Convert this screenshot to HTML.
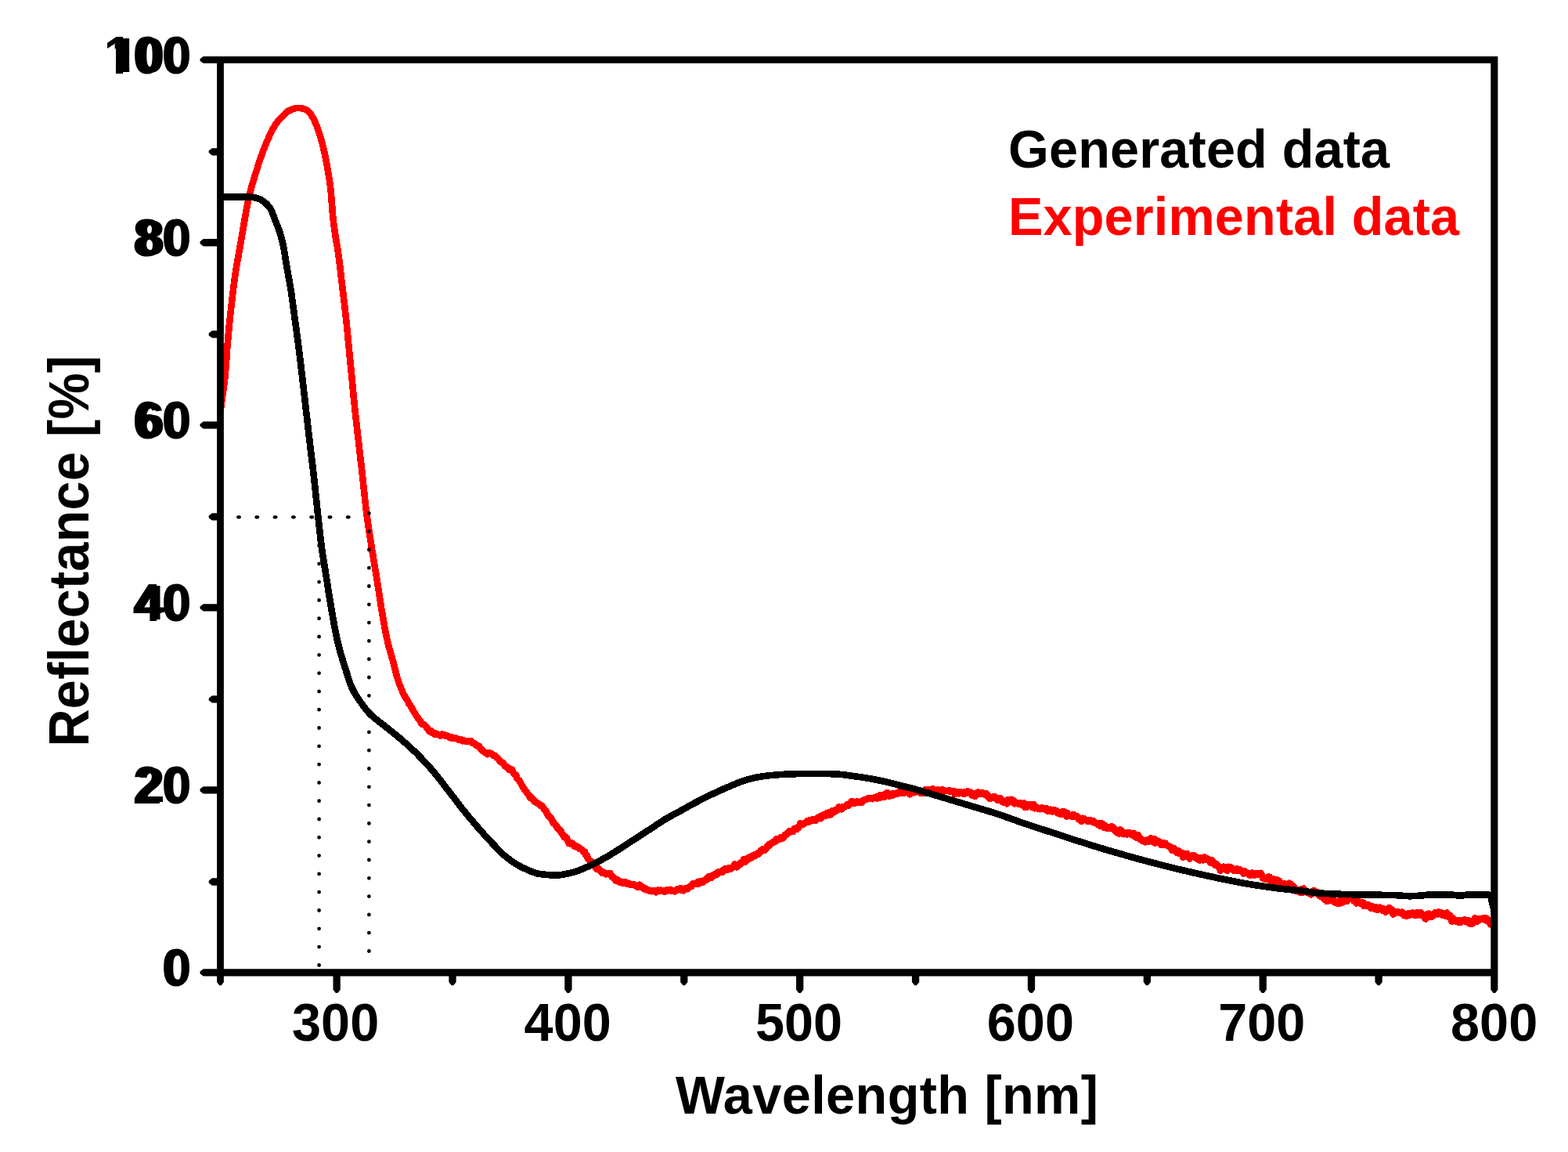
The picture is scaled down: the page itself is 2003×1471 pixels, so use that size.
<!DOCTYPE html>
<html lang="en">
<head>
<meta charset="utf-8">
<title>Reflectance vs Wavelength</title>
<style>
html,body{margin:0;padding:0;background:#fff;}
body{width:2003px;height:1471px;overflow:hidden;}
svg{display:block;}
</style>
</head>
<body>
<svg width="2003" height="1471" viewBox="0 0 2003 1471">
<rect x="0" y="0" width="2003" height="1471" fill="#fff"/>
<defs><clipPath id="plot"><rect x="281.7" y="76.7" width="1627.6" height="1165.2"/></clipPath></defs>
<g fill="none" stroke-linejoin="round" stroke-linecap="butt" shape-rendering="crispEdges" clip-path="url(#plot)" stroke-width="8.6">
<path id="red" d="M281.7 524.0L281.8 523.1L282.0 522.2L282.1 521.3L282.2 520.4L282.3 519.5L282.5 518.7L282.6 517.8L282.7 516.9L282.8 516.0L282.9 515.1L283.1 514.2L283.2 513.3L283.3 512.4L283.4 511.5L283.6 510.6L283.7 509.7L283.8 508.8L283.9 508.0L284.0 507.1L284.2 506.2L284.3 505.3L284.4 504.4L284.5 503.5L284.7 502.6L284.8 501.7L284.9 500.8L285.0 499.9L285.1 499.0L285.3 498.1L285.4 497.3L285.5 496.4L285.6 495.5L285.8 494.6L285.9 493.7L286.0 492.8L286.1 491.9L286.3 491.0L286.4 490.1L286.5 489.2L286.6 488.3L286.7 487.4L286.8 486.5L287.0 485.7L287.1 484.8L287.2 483.9L287.3 483.0L287.4 482.1L287.5 481.2L287.6 480.3L287.7 479.4L287.7 478.5L287.8 477.6L287.9 476.7L288.0 475.8L288.1 474.9L288.1 474.0L288.2 473.1L288.3 472.2L288.4 471.3L288.4 470.4L288.5 469.5L288.6 468.6L288.6 467.7L288.7 466.8L288.7 465.9L288.8 465.0L288.9 464.2L288.9 463.3L289.0 462.4L289.1 461.5L289.1 460.6L289.2 459.7L289.2 458.8L289.3 457.9L289.4 457.0L289.4 456.1L289.5 455.2L289.5 454.3L289.6 453.4L289.7 452.5L289.7 451.6L289.8 450.7L289.9 449.8L289.9 448.9L290.0 448.0L290.1 447.1L290.1 446.2L290.2 445.3L290.3 444.4L290.3 443.5L290.4 442.6L290.5 441.7L290.6 440.8L290.6 439.9L290.7 439.0L290.8 438.1L290.9 437.2L290.9 436.3L291.0 435.4L291.1 434.5L291.2 433.6L291.3 432.7L291.3 431.8L291.4 430.9L291.5 430.0L291.6 429.2L291.7 428.3L291.7 427.4L291.8 426.5L291.9 425.6L292.0 424.7L292.1 423.8L292.2 422.9L292.2 422.0L292.3 421.1L292.4 420.2L292.5 419.3L292.6 418.4L292.7 417.5L292.7 416.6L292.8 415.7L292.9 414.8L293.0 413.9L293.1 413.0L293.2 412.1L293.3 411.2L293.4 410.3L293.5 409.4L293.5 408.5L293.6 407.6L293.7 406.8L293.8 405.9L293.9 405.0L294.0 404.1L294.1 403.2L294.2 402.3L294.3 401.4L294.4 400.5L294.5 399.6L294.6 398.7L294.7 397.8L294.8 396.9L294.9 396.0L295.0 395.1L295.1 394.2L295.2 393.3L295.3 392.4L295.4 391.5L295.5 390.6L295.6 389.8L295.7 388.9L295.8 388.0L295.9 387.1L296.0 386.2L296.1 385.3L296.2 384.4L296.3 383.5L296.4 382.6L296.5 381.7L296.6 380.8L296.7 379.9L296.8 379.0L296.9 378.1L297.0 377.2L297.1 376.3L297.2 375.4L297.3 374.6L297.5 373.7L297.6 372.8L297.7 371.9L297.8 371.0L297.9 370.1L298.0 369.2L298.1 368.3L298.2 367.4L298.3 366.5L298.5 365.6L298.6 364.7L298.7 363.8L298.8 362.9L298.9 362.1L299.0 361.2L299.2 360.3L299.3 359.4L299.4 358.5L299.5 357.6L299.7 356.7L299.8 355.8L299.9 354.9L300.0 354.0L300.2 353.1L300.3 352.3L300.4 351.4L300.6 350.5L300.7 349.6L300.8 348.7L301.0 347.8L301.1 346.9L301.2 346.0L301.4 345.1L301.5 344.2L301.7 343.4L301.8 342.5L301.9 341.6L302.1 340.7L302.2 339.8L302.4 338.9L302.5 338.0L302.7 337.1L302.8 336.2L303.0 335.4L303.1 334.5L303.3 333.6L303.4 332.7L303.6 331.8L303.8 330.9L303.9 330.0L304.1 329.2L304.2 328.3L304.4 327.4L304.5 326.5L304.7 325.6L304.9 324.7L305.0 323.8L305.2 323.0L305.3 322.1L305.5 321.2L305.6 320.3L305.8 319.4L306.0 318.5L306.1 317.6L306.3 316.8L306.4 315.9L306.6 315.0L306.7 314.1L306.9 313.2L307.0 312.3L307.2 311.4L307.4 310.5L307.5 309.7L307.7 308.8L307.8 307.9L308.0 307.0L308.1 306.1L308.3 305.2L308.4 304.3L308.6 303.5L308.8 302.6L308.9 301.7L309.1 300.8L309.2 299.9L309.4 299.0L309.5 298.1L309.7 297.2L309.8 296.4L310.0 295.5L310.1 294.6L310.3 293.7L310.4 292.8L310.6 291.9L310.7 291.0L310.9 290.1L311.0 289.3L311.2 288.4L311.3 287.5L311.5 286.6L311.6 285.7L311.8 284.8L311.9 283.9L312.1 283.0L312.2 282.2L312.4 281.3L312.5 280.4L312.7 279.5L312.8 278.6L313.0 277.7L313.2 276.8L313.3 276.0L313.5 275.1L313.6 274.2L313.8 273.3L313.9 272.4L314.1 271.5L314.3 270.6L314.4 269.7L314.6 268.9L314.7 268.0L314.9 267.1L315.1 266.2L315.2 265.3L315.4 264.4L315.6 263.6L315.8 262.7L315.9 261.8L316.1 260.9L316.3 260.0L316.5 259.1L316.7 258.3L316.8 257.4L317.0 256.5L317.2 255.6L317.4 254.8L317.6 253.9L317.8 253.0L318.0 252.1L318.2 251.2L318.4 250.4L318.6 249.5L318.8 248.6L319.0 247.7L319.3 246.9L319.5 246.0L319.7 245.1L319.9 244.2L320.1 243.4L320.4 242.5L320.6 241.6L320.8 240.7L321.0 239.9L321.3 239.0L321.5 238.1L321.7 237.3L322.0 236.4L322.2 235.5L322.5 234.7L322.7 233.8L323.0 233.0L323.2 232.1L323.5 231.2L323.8 230.4L324.0 229.5L324.3 228.6L324.6 227.8L324.8 226.9L325.1 226.1L325.4 225.2L325.6 224.3L325.9 223.5L326.2 222.6L326.4 221.8L326.7 220.9L327.0 220.1L327.3 219.2L327.5 218.3L327.8 217.5L328.1 216.6L328.3 215.8L328.6 214.9L328.9 214.0L329.1 213.2L329.4 212.3L329.7 211.5L330.0 210.6L330.2 209.7L330.5 208.9L330.8 208.0L331.1 207.2L331.3 206.3L331.6 205.5L331.9 204.6L332.2 203.8L332.5 202.9L332.8 202.1L333.1 201.2L333.4 200.4L333.7 199.5L334.0 198.7L334.3 197.8L334.6 197.0L334.9 196.1L335.2 195.3L335.5 194.4L335.8 193.6L336.1 192.7L336.5 191.9L336.8 191.1L337.1 190.2L337.4 189.4L337.8 188.5L338.1 187.7L338.4 186.9L338.8 186.0L339.1 185.2L339.4 184.4L339.8 183.5L340.1 182.7L340.5 181.9L340.8 181.1L341.2 180.2L341.6 179.4L341.9 178.6L342.3 177.8L342.6 176.9L343.0 176.1L343.4 175.3L343.8 174.5L344.1 173.6L344.5 172.8L344.9 172.0L345.3 171.2L345.7 170.3L346.1 169.5L346.5 168.7L346.9 167.9L347.3 167.1L347.7 166.3L348.1 165.5L348.5 164.7L349.0 163.9L349.4 163.1L349.9 162.4L350.3 161.6L350.8 160.8L351.2 160.1L351.7 159.4L352.2 158.6L352.7 157.9L353.3 157.1L353.8 156.4L354.4 155.7L354.9 155.0L355.5 154.3L356.1 153.6L356.7 152.9L357.3 152.2L357.9 151.5L358.5 150.9L359.1 150.2L359.7 149.6L360.3 148.9L360.9 148.3L361.6 147.6L362.2 146.9L362.9 146.2L363.5 145.6L364.2 144.9L364.9 144.3L365.6 143.7L366.3 143.2L367.0 142.7L367.7 142.2L368.5 141.8L369.2 141.4L370.0 141.0L370.8 140.6L371.7 140.3L372.5 139.9L373.4 139.6L374.2 139.2L375.1 138.9L376.0 138.6L376.9 138.4L377.8 138.2L378.7 138.0L379.6 137.9L380.4 137.8L381.3 137.8L382.2 137.8L383.1 137.9L384.0 138.1L385.0 138.3L385.9 138.5L386.8 138.7L387.7 139.0L388.6 139.3L389.5 139.6L390.3 140.0L391.1 140.3L391.9 140.7L392.6 141.0L393.2 141.5L393.9 142.0L394.5 142.6L395.1 143.2L395.7 143.9L396.2 144.7L396.8 145.5L397.3 146.3L397.8 147.1L398.3 147.9L398.8 148.8L399.2 149.6L399.7 150.3L400.1 151.1L400.6 151.9L401.0 152.7L401.4 153.5L401.8 154.3L402.1 155.1L402.5 156.0L402.9 156.8L403.2 157.6L403.6 158.5L403.9 159.3L404.3 160.1L404.6 161.0L404.9 161.8L405.2 162.6L405.5 163.5L405.8 164.3L406.1 165.2L406.4 166.0L406.7 166.9L407.0 167.7L407.3 168.6L407.6 169.4L407.9 170.3L408.2 171.1L408.4 172.0L408.7 172.9L409.0 173.7L409.2 174.6L409.5 175.5L409.8 176.3L410.0 177.2L410.3 178.1L410.5 178.9L410.7 179.8L411.0 180.7L411.2 181.5L411.4 182.4L411.7 183.3L411.9 184.1L412.1 185.0L412.3 185.9L412.5 186.7L412.8 187.6L413.0 188.5L413.2 189.4L413.4 190.3L413.6 191.1L413.8 192.0L414.0 192.9L414.2 193.8L414.4 194.6L414.6 195.5L414.7 196.4L414.9 197.3L415.1 198.2L415.3 199.1L415.5 199.9L415.7 200.8L415.8 201.7L416.0 202.6L416.2 203.5L416.4 204.3L416.5 205.2L416.7 206.1L416.9 207.0L417.1 207.9L417.2 208.8L417.4 209.6L417.6 210.5L417.7 211.4L417.9 212.3L418.0 213.2L418.2 214.1L418.3 215.0L418.5 215.9L418.7 216.7L418.8 217.6L419.0 218.5L419.1 219.4L419.2 220.3L419.4 221.2L419.5 222.1L419.7 223.0L419.8 223.8L420.0 224.7L420.1 225.6L420.3 226.5L420.4 227.4L420.6 228.3L420.7 229.2L420.9 230.1L421.0 231.0L421.1 231.8L421.3 232.7L421.4 233.6L421.5 234.5L421.6 235.4L421.8 236.3L421.9 237.2L422.0 238.1L422.1 239.0L422.2 239.9L422.3 240.8L422.4 241.7L422.5 242.6L422.5 243.4L422.6 244.3L422.7 245.2L422.8 246.1L422.9 247.0L422.9 247.9L423.0 248.8L423.1 249.7L423.2 250.6L423.2 251.5L423.3 252.4L423.4 253.3L423.4 254.2L423.5 255.1L423.6 256.0L423.6 256.9L423.7 257.8L423.8 258.7L423.9 259.6L423.9 260.5L424.0 261.4L424.1 262.3L424.2 263.2L424.2 264.1L424.3 265.0L424.4 265.9L424.4 266.8L424.5 267.7L424.6 268.6L424.7 269.5L424.7 270.4L424.8 271.3L424.9 272.2L425.0 273.1L425.0 274.0L425.1 274.9L425.2 275.7L425.3 276.6L425.4 277.5L425.4 278.4L425.5 279.3L425.6 280.2L425.7 281.1L425.8 282.0L425.9 282.9L426.0 283.8L426.1 284.7L426.2 285.6L426.4 286.5L426.5 287.4L426.6 288.3L426.7 289.2L426.8 290.0L427.0 290.9L427.1 291.8L427.2 292.7L427.4 293.6L427.5 294.5L427.6 295.4L427.7 296.3L427.9 297.2L428.0 298.1L428.1 299.0L428.3 299.8L428.4 300.7L428.5 301.6L428.7 302.5L428.8 303.4L429.0 304.3L429.1 305.2L429.3 306.1L429.4 307.0L429.6 307.8L429.7 308.7L429.9 309.6L430.0 310.5L430.2 311.4L430.3 312.3L430.5 313.2L430.6 314.0L430.8 314.9L430.9 315.8L431.1 316.7L431.2 317.6L431.4 318.5L431.5 319.4L431.6 320.3L431.8 321.2L431.9 322.0L432.0 322.9L432.2 323.8L432.3 324.7L432.4 325.6L432.5 326.5L432.7 327.4L432.8 328.3L432.9 329.2L433.0 330.1L433.1 331.0L433.3 331.9L433.4 332.7L433.5 333.6L433.6 334.5L433.7 335.4L433.8 336.3L434.0 337.2L434.1 338.1L434.2 339.0L434.3 339.9L434.4 340.8L434.5 341.7L434.6 342.6L434.7 343.5L434.8 344.4L434.9 345.3L435.0 346.1L435.1 347.0L435.2 347.9L435.3 348.8L435.4 349.7L435.5 350.6L435.6 351.5L435.7 352.4L435.8 353.3L435.9 354.2L436.0 355.1L436.1 356.0L436.2 356.9L436.3 357.8L436.4 358.7L436.5 359.6L436.7 360.5L436.8 361.3L436.9 362.2L437.0 363.1L437.1 364.0L437.2 364.9L437.3 365.8L437.4 366.7L437.5 367.6L437.6 368.5L437.7 369.4L437.8 370.3L437.9 371.2L438.0 372.1L438.2 373.0L438.3 373.9L438.4 374.8L438.5 375.6L438.6 376.5L438.7 377.4L438.8 378.3L438.9 379.2L439.0 380.1L439.1 381.0L439.2 381.9L439.3 382.8L439.4 383.7L439.5 384.6L439.7 385.5L439.8 386.4L439.9 387.3L440.0 388.2L440.1 389.1L440.2 389.9L440.3 390.8L440.4 391.7L440.5 392.6L440.6 393.5L440.7 394.4L440.8 395.3L440.9 396.2L441.0 397.1L441.1 398.0L441.2 398.9L441.3 399.8L441.4 400.7L441.5 401.6L441.6 402.5L441.7 403.4L441.8 404.3L441.9 405.1L442.0 406.0L442.1 406.9L442.2 407.8L442.3 408.7L442.4 409.6L442.5 410.5L442.6 411.4L442.7 412.3L442.7 413.2L442.8 414.1L442.9 415.0L443.0 415.9L443.1 416.8L443.2 417.7L443.3 418.6L443.4 419.5L443.5 420.4L443.5 421.3L443.6 422.2L443.7 423.1L443.8 424.0L443.9 424.8L444.0 425.7L444.0 426.6L444.1 427.5L444.2 428.4L444.3 429.3L444.4 430.2L444.5 431.1L444.6 432.0L444.6 432.9L444.7 433.8L444.8 434.7L444.9 435.6L445.0 436.5L445.1 437.4L445.1 438.3L445.2 439.2L445.3 440.1L445.4 441.0L445.5 441.9L445.6 442.8L445.7 443.7L445.8 444.6L445.8 445.5L445.9 446.4L446.0 447.2L446.1 448.1L446.2 449.0L446.3 449.9L446.4 450.8L446.5 451.7L446.5 452.6L446.6 453.5L446.7 454.4L446.8 455.3L446.9 456.2L447.0 457.1L447.1 458.0L447.2 458.9L447.2 459.8L447.3 460.7L447.4 461.6L447.5 462.5L447.6 463.4L447.7 464.3L447.8 465.2L447.9 466.1L447.9 467.0L448.0 467.8L448.1 468.7L448.2 469.6L448.3 470.5L448.4 471.4L448.5 472.3L448.5 473.2L448.6 474.1L448.7 475.0L448.8 475.9L448.9 476.8L449.0 477.7L449.1 478.6L449.2 479.5L449.2 480.4L449.3 481.3L449.4 482.2L449.5 483.1L449.6 484.0L449.7 484.9L449.8 485.8L449.9 486.7L449.9 487.6L450.0 488.5L450.1 489.3L450.2 490.2L450.3 491.1L450.4 492.0L450.5 492.9L450.5 493.8L450.6 494.7L450.7 495.6L450.8 496.5L450.9 497.4L451.0 498.3L451.1 499.2L451.1 500.1L451.2 501.0L451.3 501.9L451.4 502.8L451.5 503.7L451.6 504.6L451.7 505.5L451.7 506.4L451.8 507.3L451.9 508.2L452.0 509.1L452.1 510.0L452.2 510.9L452.3 511.7L452.4 512.6L452.4 513.5L452.5 514.4L452.6 515.3L452.7 516.2L452.8 517.1L452.9 518.0L453.0 518.9L453.1 519.8L453.2 520.7L453.3 521.6L453.3 522.5L453.4 523.4L453.5 524.3L453.6 525.2L453.7 526.1L453.8 527.0L453.9 527.9L454.0 528.8L454.1 529.7L454.2 530.5L454.3 531.4L454.4 532.3L454.5 533.2L454.6 534.1L454.7 535.0L454.8 535.9L454.9 536.8L455.0 537.7L455.1 538.6L455.2 539.5L455.3 540.4L455.4 541.3L455.5 542.2L455.6 543.1L455.7 544.0L455.8 544.9L455.9 545.8L456.0 546.6L456.1 547.5L456.2 548.4L456.3 549.3L456.4 550.2L456.5 551.1L456.6 552.0L456.7 552.9L456.8 553.8L456.9 554.7L457.0 555.6L457.1 556.5L457.2 557.4L457.3 558.3L457.4 559.2L457.5 560.1L457.7 561.0L457.8 561.8L457.9 562.7L458.0 563.6L458.1 564.5L458.2 565.4L458.3 566.3L458.4 567.2L458.5 568.1L458.6 569.0L458.7 569.9L458.8 570.8L458.9 571.7L459.0 572.6L459.1 573.5L459.2 574.4L459.3 575.3L459.4 576.2L459.5 577.0L459.6 577.9L459.7 578.8L459.8 579.7L459.9 580.6L460.0 581.5L460.1 582.4L460.2 583.3L460.3 584.2L460.4 585.1L460.5 586.0L460.6 586.9L460.7 587.8L460.8 588.7L460.9 589.6L461.0 590.5L461.2 591.4L461.3 592.2L461.4 593.1L461.5 594.0L461.6 594.9L461.7 595.8L461.8 596.7L461.9 597.6L462.0 598.5L462.1 599.4L462.2 600.3L462.3 601.2L462.4 602.1L462.5 603.0L462.6 603.9L462.7 604.8L462.8 605.7L462.9 606.6L463.0 607.4L463.1 608.3L463.2 609.2L463.3 610.1L463.4 611.0L463.5 611.9L463.6 612.8L463.7 613.7L463.8 614.6L463.9 615.5L464.0 616.4L464.0 617.3L464.1 618.2L464.2 619.1L464.3 620.0L464.4 620.9L464.5 621.8L464.6 622.7L464.7 623.6L464.8 624.5L464.9 625.3L465.0 626.2L465.1 627.1L465.2 628.0L465.3 628.9L465.4 629.8L465.5 630.7L465.6 631.6L465.7 632.5L465.8 633.4L465.8 634.3L465.9 635.2L466.0 636.1L466.1 637.0L466.2 637.9L466.3 638.8L466.4 639.7L466.5 640.6L466.6 641.5L466.7 642.4L466.8 643.2L466.9 644.1L467.0 645.0L467.1 645.9L467.2 646.8L467.3 647.7L467.4 648.6L467.6 649.5L467.7 650.4L467.8 651.3L467.9 652.2L468.0 653.1L468.1 654.0L468.2 654.9L468.3 655.8L468.4 656.6L468.5 657.5L468.7 658.4L468.8 659.3L468.9 660.2L469.0 661.1L469.1 662.0L469.2 662.9L469.4 663.8L469.5 664.7L469.6 665.6L469.7 666.5L469.9 667.3L470.0 668.2L470.1 669.1L470.3 670.0L470.4 670.9L470.5 671.8L470.7 672.7L470.8 673.6L470.9 674.5L471.1 675.4L471.2 676.2L471.3 677.1L471.5 678.0L471.6 678.9L471.7 679.8L471.9 680.7L472.0 681.6L472.2 682.5L472.3 683.4L472.4 684.3L472.6 685.1L472.7 686.0L472.8 686.9L473.0 687.8L473.1 688.7L473.3 689.6L473.4 690.5L473.6 691.4L473.7 692.3L473.8 693.1L474.0 694.0L474.1 694.9L474.3 695.8L474.4 696.7L474.5 697.6L474.7 698.5L474.8 699.4L475.0 700.3L475.1 701.1L475.2 702.0L475.4 702.9L475.5 703.8L475.7 704.7L475.8 705.6L476.0 706.5L476.1 707.4L476.3 708.3L476.4 709.1L476.6 710.0L476.7 710.9L476.8 711.8L477.0 712.7L477.1 713.6L477.3 714.5L477.4 715.4L477.6 716.2L477.7 717.1L477.9 718.0L478.0 718.9L478.2 719.8L478.3 720.7L478.5 721.6L478.6 722.5L478.8 723.3L478.9 724.2L479.1 725.1L479.2 726.0L479.4 726.9L479.5 727.8L479.7 728.7L479.8 729.6L480.0 730.4L480.1 731.3L480.3 732.2L480.4 733.1L480.6 734.0L480.7 734.9L480.8 735.8L481.0 736.7L481.1 737.6L481.3 738.4L481.4 739.3L481.6 740.2L481.7 741.1L481.8 742.0L482.0 742.9L482.1 743.8L482.2 744.7L482.4 745.6L482.5 746.4L482.7 747.3L482.8 748.2L482.9 749.1L483.1 750.0L483.2 750.9L483.3 751.8L483.5 752.7L483.6 753.6L483.7 754.5L483.9 755.3L484.0 756.2L484.1 757.1L484.3 758.0L484.4 758.9L484.5 759.8L484.7 760.7L484.8 761.6L484.9 762.5L485.1 763.4L485.2 764.2L485.3 765.1L485.5 766.0L485.6 766.9L485.8 767.8L485.9 768.7L486.0 769.6L486.2 770.5L486.3 771.4L486.5 772.2L486.6 773.1L486.7 774.0L486.9 774.9L487.0 775.8L487.2 776.7L487.3 777.6L487.5 778.5L487.6 779.3L487.8 780.2L487.9 781.1L488.1 782.0L488.2 782.9L488.4 783.8L488.5 784.7L488.7 785.6L488.8 786.5L489.0 787.3L489.1 788.2L489.3 789.1L489.4 790.0L489.6 790.9L489.7 791.8L489.9 792.7L490.0 793.6L490.2 794.4L490.4 795.3L490.5 796.2L490.7 797.1L490.8 798.0L491.0 798.8L491.2 799.7L491.3 800.6L491.5 801.5L491.6 802.4L491.8 803.3L492.0 804.2L492.1 805.0L492.3 805.9L492.5 806.8L492.7 807.6L492.8 808.6L493.0 809.4L493.2 810.3L493.4 811.2L493.5 812.1L493.7 813.0L493.9 813.8L494.1 814.6L494.3 815.6L494.5 816.5L494.7 817.5L494.9 818.3L495.1 819.2L495.3 820.0L495.5 820.9L495.7 821.7L495.9 822.6L496.1 823.4L496.4 824.4L496.6 825.4L496.8 826.4L497.0 827.2L497.3 828.0L497.5 828.9L497.8 829.7L498.0 830.6L498.3 831.3L498.5 831.9L498.8 832.9L499.0 833.7L499.3 834.6L499.5 835.2L499.8 836.1L500.0 837.0L500.3 838.1L500.5 838.9L500.8 839.9L501.0 840.8L501.3 841.8L501.5 842.6L501.8 843.3L502.0 844.2L502.2 844.9L502.5 846.1L502.7 846.8L502.9 847.8L503.2 848.7L503.4 849.5L503.6 850.1L503.8 851.4L504.1 852.2L504.3 853.1L504.5 854.0L504.7 854.8L504.9 856.0L505.1 856.7L505.3 857.6L505.6 858.2L505.8 858.6L506.0 859.8L506.2 860.7L506.4 861.7L506.7 862.5L506.9 863.5L507.1 864.4L507.4 865.1L507.6 866.1L507.9 866.8L508.1 867.5L508.4 868.6L508.7 869.3L509.0 869.9L509.3 870.8L509.6 871.8L509.9 872.9L510.2 873.8L510.5 874.9L510.9 875.6L511.2 875.8L511.5 876.6L511.9 877.8L512.2 878.9L512.6 879.6L512.9 880.2L513.3 881.1L513.6 881.8L514.0 883.1L514.3 883.7L514.7 884.9L515.1 886.0L515.5 886.4L515.9 887.1L516.3 888.4L516.7 888.4L517.1 889.2L517.5 889.6L517.9 890.2L518.4 891.7L518.8 892.1L519.2 892.8L519.7 893.3L520.1 893.3L520.6 894.8L521.1 895.2L521.6 896.4L522.1 898.2L522.6 898.8L523.1 899.5L523.6 900.0L524.1 901.1L524.6 901.3L525.1 902.5L525.5 902.9L526.0 904.5L526.5 905.4L526.9 905.7L527.4 907.2L527.9 907.5L528.3 908.4L528.8 908.5L529.2 910.0L529.7 910.1L530.2 911.3L530.6 911.9L531.1 912.3L531.6 913.8L532.0 914.6L532.5 914.8L533.0 916.0L533.4 916.0L533.9 916.4L534.4 917.3L534.8 917.8L535.3 919.0L535.8 919.8L536.3 919.9L536.8 920.6L537.4 922.1L538.0 922.6L538.6 924.3L539.2 924.8L539.9 924.2L540.6 925.3L541.3 924.7L542.0 925.9L542.7 926.4L543.5 927.3L544.2 927.4L544.9 929.0L545.5 929.4L546.2 929.9L546.9 931.4L547.6 932.9L548.2 933.9L548.9 932.9L549.6 934.4L550.3 933.0L551.1 933.9L551.9 934.6L552.7 935.9L553.5 936.0L554.3 936.6L555.1 937.5L556.0 936.9L556.9 936.6L557.7 937.8L558.6 937.5L559.5 937.5L560.3 937.7L561.2 938.9L562.1 939.5L563.0 938.5L563.9 937.8L564.8 938.6L565.7 937.7L566.6 938.7L567.5 938.2L568.4 939.3L569.3 938.6L570.1 939.6L571.0 939.5L571.8 939.8L572.7 940.6L573.5 940.6L574.4 941.7L575.2 941.5L576.1 941.0L576.9 942.8L577.8 942.8L578.6 942.5L579.5 943.1L580.3 943.1L581.2 942.7L582.1 942.2L583.0 942.7L583.8 943.4L584.7 944.3L585.6 943.8L586.5 944.0L587.4 944.9L588.3 944.0L589.2 944.6L590.0 945.0L590.9 946.4L591.8 945.7L592.7 945.5L593.5 946.0L594.4 946.3L595.3 947.0L596.1 946.6L597.0 946.7L597.8 946.7L598.7 947.0L599.5 946.2L600.4 946.7L601.2 946.5L602.1 946.2L602.9 947.1L603.8 949.0L604.6 949.3L605.4 949.2L606.2 949.6L606.9 950.6L607.7 949.9L608.4 951.1L609.1 952.2L609.9 952.8L610.6 952.9L611.3 953.2L612.0 952.7L612.7 954.2L613.4 955.5L614.1 956.3L614.8 957.0L615.5 956.6L616.2 958.5L616.9 959.5L617.7 959.4L618.4 960.2L619.2 961.0L620.0 961.3L620.8 961.4L621.6 962.2L622.4 963.2L623.3 962.6L624.1 961.5L624.9 961.2L625.7 961.5L626.6 962.2L627.4 962.0L628.2 962.8L629.0 963.5L629.7 964.5L630.5 964.2L631.2 964.1L632.0 965.1L632.7 965.4L633.5 966.2L634.2 967.3L634.9 967.5L635.7 968.0L636.4 969.2L637.1 969.7L637.8 971.0L638.5 970.7L639.2 971.9L639.9 973.2L640.6 972.8L641.3 973.5L642.0 973.9L642.7 974.3L643.4 976.0L644.1 976.8L644.8 978.0L645.5 977.6L646.1 978.4L646.8 978.5L647.5 979.0L648.2 980.5L648.9 980.2L649.5 980.5L650.2 982.6L650.8 982.1L651.5 982.7L652.1 983.2L652.7 982.5L653.3 983.1L653.9 982.6L654.5 983.9L655.1 985.2L655.6 987.2L656.2 987.4L656.7 988.5L657.3 989.2L657.8 988.8L658.3 989.8L658.8 989.5L659.3 990.2L659.9 992.4L660.4 994.0L660.9 994.4L661.4 995.1L661.9 995.4L662.4 995.6L662.9 996.0L663.4 996.2L663.9 998.2L664.4 998.6L664.9 999.2L665.4 1000.4L665.8 1001.2L666.3 1002.2L666.8 1002.9L667.3 1004.0L667.8 1004.4L668.3 1005.6L668.8 1006.1L669.3 1006.9L669.9 1007.3L670.4 1009.3L671.0 1009.6L671.5 1010.3L672.1 1010.9L672.6 1011.4L673.2 1012.8L673.7 1012.5L674.3 1013.7L674.9 1014.5L675.5 1015.7L676.0 1016.2L676.6 1017.9L677.2 1017.0L677.8 1019.1L678.4 1018.7L679.0 1019.2L679.7 1018.9L680.3 1020.5L680.9 1021.0L681.5 1022.4L682.2 1022.2L682.8 1023.8L683.5 1024.1L684.2 1023.4L684.9 1024.6L685.6 1024.7L686.3 1025.6L687.0 1025.4L687.7 1026.2L688.5 1027.2L689.2 1026.7L689.9 1028.7L690.6 1028.5L691.3 1028.8L692.0 1028.6L692.7 1028.9L693.3 1030.8L693.9 1031.0L694.6 1032.0L695.2 1033.7L695.8 1034.4L696.3 1035.1L696.9 1035.2L697.5 1035.5L698.0 1037.5L698.6 1038.0L699.1 1039.1L699.7 1041.3L700.2 1040.8L700.8 1041.6L701.3 1042.8L701.8 1042.4L702.4 1042.6L702.9 1043.4L703.4 1045.2L703.9 1044.5L704.4 1046.1L704.9 1047.1L705.4 1046.8L705.9 1048.3L706.4 1049.3L706.8 1051.1L707.3 1051.0L707.8 1050.7L708.3 1051.7L708.8 1052.6L709.3 1053.1L709.8 1054.0L710.3 1054.1L710.9 1055.0L711.4 1056.6L711.9 1055.9L712.4 1057.5L712.9 1058.0L713.4 1058.1L713.9 1059.6L714.5 1059.7L715.0 1059.6L715.5 1060.5L716.0 1061.5L716.6 1061.2L717.1 1063.5L717.7 1064.3L718.2 1065.2L718.8 1066.5L719.3 1065.9L719.9 1067.4L720.5 1068.1L721.1 1069.3L721.7 1069.7L722.3 1068.3L722.9 1070.7L723.5 1071.5L724.2 1070.2L724.8 1072.0L725.5 1074.4L726.2 1075.5L726.9 1077.1L727.6 1076.6L728.3 1077.5L729.0 1076.3L729.7 1077.3L730.4 1076.5L731.2 1076.6L731.9 1076.9L732.6 1078.6L733.3 1080.4L734.1 1080.0L734.8 1080.8L735.5 1081.0L736.3 1080.3L737.1 1081.4L737.9 1082.3L738.7 1082.3L739.5 1081.7L740.3 1084.1L741.1 1083.8L741.9 1084.2L742.6 1084.4L743.4 1085.0L744.1 1085.5L744.8 1087.2L745.4 1087.4L746.0 1087.8L746.6 1088.4L747.2 1088.0L747.7 1091.0L748.2 1091.6L748.7 1092.6L749.1 1091.7L749.6 1092.9L750.1 1093.1L750.5 1095.3L751.0 1095.5L751.4 1097.2L751.9 1097.4L752.4 1097.9L752.9 1098.0L753.5 1098.6L754.0 1099.0L754.6 1100.3L755.2 1100.4L755.8 1100.0L756.4 1101.5L757.1 1101.4L757.7 1102.7L758.4 1103.7L759.1 1104.8L759.8 1106.1L760.5 1105.6L761.2 1108.7L761.9 1107.8L762.6 1109.9L763.3 1109.3L764.1 1108.1L764.8 1109.8L765.5 1110.2L766.3 1110.3L767.1 1112.5L767.8 1113.6L768.6 1114.1L769.3 1115.0L770.1 1113.8L770.9 1113.6L771.7 1115.2L772.5 1114.5L773.3 1115.8L774.2 1116.3L775.0 1115.7L775.9 1115.4L776.7 1115.4L777.6 1115.7L778.4 1115.9L779.3 1114.8L780.1 1117.4L780.9 1117.5L781.7 1119.7L782.5 1119.2L783.3 1120.1L784.1 1121.1L784.8 1122.3L785.6 1122.0L786.3 1124.6L787.0 1124.0L787.7 1123.9L788.5 1123.1L789.2 1125.5L789.9 1124.9L790.7 1125.7L791.4 1125.3L792.2 1127.0L792.9 1126.7L793.7 1125.8L794.5 1127.4L795.3 1125.8L796.2 1127.4L797.0 1127.5L797.8 1127.4L798.7 1126.2L799.6 1126.5L800.4 1127.9L801.3 1128.7L802.2 1128.4L803.0 1128.4L803.9 1128.1L804.8 1129.7L805.7 1129.6L806.6 1130.1L807.4 1129.5L808.3 1129.6L809.2 1129.8L810.0 1129.0L810.9 1130.3L811.7 1131.1L812.6 1131.5L813.5 1132.4L814.3 1132.7L815.2 1131.2L816.0 1132.5L816.9 1129.7L817.7 1132.8L818.6 1131.1L819.4 1133.1L820.3 1133.4L821.1 1134.1L822.0 1133.6L822.9 1135.1L823.7 1134.4L824.6 1136.2L825.5 1135.2L826.4 1135.6L827.2 1136.9L828.1 1136.5L829.0 1137.3L829.9 1137.1L830.8 1137.6L831.7 1137.9L832.6 1138.3L833.5 1137.7L834.4 1137.1L835.3 1137.5L836.2 1137.6L837.1 1137.8L838.0 1139.3L838.9 1137.7L839.7 1138.1L840.6 1136.6L841.5 1137.1L842.4 1138.0L843.3 1138.1L844.2 1136.6L845.1 1137.3L846.0 1137.1L846.9 1137.8L847.8 1138.4L848.7 1138.6L849.6 1137.3L850.5 1136.9L851.4 1137.3L852.3 1136.2L853.2 1137.4L854.1 1136.0L855.0 1137.0L855.9 1135.9L856.8 1135.8L857.7 1136.8L858.6 1138.0L859.5 1137.4L860.4 1137.3L861.3 1138.2L862.2 1138.4L863.1 1137.8L864.1 1136.9L865.0 1135.5L865.9 1134.9L866.8 1134.9L867.6 1135.0L868.5 1134.3L869.4 1136.5L870.3 1135.5L871.1 1134.6L872.0 1136.0L872.8 1137.4L873.6 1135.4L874.5 1135.1L875.3 1135.8L876.1 1134.0L876.9 1134.6L877.8 1134.4L878.6 1135.3L879.4 1132.8L880.2 1133.6L881.0 1132.3L881.8 1131.8L882.6 1131.1L883.4 1131.9L884.2 1129.0L885.0 1128.1L885.8 1129.0L886.7 1128.0L887.5 1128.5L888.3 1128.2L889.1 1128.5L889.9 1128.3L890.8 1126.4L891.6 1125.7L892.4 1128.7L893.3 1125.9L894.1 1126.9L894.9 1125.4L895.8 1126.0L896.6 1125.6L897.5 1126.9L898.3 1125.5L899.1 1124.2L900.0 1123.6L900.8 1124.1L901.6 1123.7L902.5 1123.7L903.3 1123.2L904.2 1119.9L905.0 1120.4L905.8 1118.9L906.7 1119.7L907.5 1120.3L908.3 1118.5L909.2 1120.7L910.0 1119.8L910.8 1117.8L911.7 1116.6L912.5 1118.2L913.3 1116.7L914.1 1115.7L915.0 1116.1L915.8 1116.6L916.6 1116.0L917.4 1113.3L918.2 1113.2L919.1 1113.7L919.9 1114.1L920.7 1113.9L921.5 1112.4L922.4 1113.8L923.2 1112.9L924.0 1110.6L924.8 1110.5L925.6 1110.6L926.4 1109.1L927.3 1110.3L928.1 1110.5L928.9 1109.8L929.7 1109.9L930.5 1110.3L931.3 1108.3L932.1 1109.4L932.9 1108.3L933.8 1109.4L934.6 1109.0L935.4 1108.1L936.2 1107.2L937.0 1107.1L937.8 1104.9L938.6 1103.4L939.4 1104.1L940.2 1105.4L941.0 1107.3L941.9 1105.9L942.7 1105.3L943.5 1104.3L944.3 1104.3L945.1 1104.1L945.9 1101.7L946.7 1102.8L947.5 1102.4L948.2 1101.3L949.0 1100.1L949.8 1097.2L950.6 1099.9L951.4 1098.9L952.2 1100.6L953.0 1098.9L953.8 1098.5L954.5 1098.0L955.3 1095.5L956.1 1096.7L956.9 1095.4L957.7 1096.6L958.4 1094.6L959.2 1093.4L960.0 1095.3L960.7 1094.1L961.5 1093.1L962.3 1092.8L963.1 1091.7L963.8 1091.9L964.6 1091.1L965.3 1092.7L966.1 1091.3L966.9 1091.5L967.6 1090.1L968.4 1088.8L969.1 1090.8L969.9 1089.5L970.7 1089.2L971.4 1086.2L972.1 1086.0L972.9 1087.1L973.6 1086.4L974.4 1084.0L975.1 1085.6L975.9 1085.3L976.6 1086.0L977.3 1084.0L978.1 1083.1L978.8 1083.9L979.5 1081.7L980.3 1080.3L981.0 1079.0L981.7 1080.1L982.4 1078.0L983.2 1079.5L983.9 1078.9L984.6 1076.9L985.4 1077.2L986.1 1076.7L986.8 1075.4L987.6 1074.6L988.3 1075.6L989.1 1074.3L989.8 1074.6L990.6 1074.4L991.3 1071.6L992.0 1071.1L992.8 1073.2L993.5 1071.8L994.3 1072.0L995.0 1072.2L995.8 1070.8L996.5 1070.6L997.3 1069.0L998.0 1069.3L998.8 1070.0L999.5 1070.6L1000.3 1069.3L1001.0 1069.1L1001.8 1068.1L1002.5 1066.7L1003.3 1065.5L1004.0 1066.5L1004.8 1064.4L1005.6 1065.2L1006.3 1064.1L1007.1 1063.1L1007.9 1061.4L1008.6 1062.8L1009.4 1062.6L1010.2 1061.1L1011.0 1061.7L1011.8 1060.6L1012.5 1061.7L1013.3 1061.8L1014.1 1060.3L1014.9 1057.8L1015.7 1057.7L1016.5 1058.7L1017.3 1058.8L1018.1 1058.9L1018.9 1057.0L1019.7 1057.2L1020.6 1054.6L1021.4 1054.7L1022.2 1051.5L1023.0 1051.6L1023.8 1051.9L1024.6 1052.7L1025.4 1052.8L1026.2 1051.7L1027.1 1051.0L1027.9 1051.5L1028.7 1051.0L1029.5 1050.2L1030.3 1049.7L1031.1 1048.2L1031.9 1049.8L1032.8 1049.9L1033.6 1047.6L1034.4 1047.1L1035.2 1048.6L1036.0 1048.4L1036.8 1046.7L1037.7 1046.8L1038.5 1046.0L1039.3 1048.0L1040.1 1047.4L1040.9 1046.5L1041.8 1047.7L1042.6 1045.2L1043.4 1044.9L1044.2 1044.7L1045.1 1043.6L1045.9 1044.0L1046.7 1042.7L1047.5 1043.2L1048.4 1045.3L1049.2 1042.6L1050.0 1041.1L1050.8 1041.2L1051.7 1040.2L1052.5 1040.4L1053.3 1041.4L1054.2 1042.0L1055.0 1039.8L1055.8 1040.5L1056.7 1037.9L1057.5 1039.6L1058.3 1037.5L1059.2 1039.4L1060.0 1040.8L1060.9 1040.4L1061.7 1038.9L1062.5 1035.5L1063.4 1037.9L1064.2 1035.6L1065.1 1036.6L1065.9 1035.0L1066.7 1034.7L1067.6 1036.3L1068.4 1033.8L1069.2 1033.9L1070.1 1033.8L1070.9 1034.0L1071.7 1030.3L1072.6 1033.3L1073.4 1031.5L1074.2 1032.1L1075.1 1033.3L1075.9 1030.6L1076.7 1030.8L1077.6 1031.2L1078.4 1030.2L1079.2 1030.4L1080.1 1029.1L1080.9 1028.4L1081.7 1027.4L1082.6 1027.2L1083.4 1027.3L1084.2 1028.5L1085.1 1026.2L1085.9 1026.3L1086.8 1026.3L1087.6 1023.5L1088.4 1023.2L1089.3 1025.3L1090.1 1023.9L1091.0 1024.4L1091.8 1026.0L1092.7 1025.4L1093.5 1024.0L1094.4 1024.1L1095.2 1023.2L1096.1 1024.2L1097.0 1024.5L1097.8 1024.5L1098.7 1023.9L1099.5 1024.7L1100.4 1023.2L1101.3 1024.4L1102.1 1023.5L1103.0 1021.7L1103.9 1022.0L1104.7 1021.3L1105.6 1021.2L1106.5 1020.9L1107.3 1020.7L1108.2 1019.6L1109.1 1019.8L1110.0 1019.7L1110.8 1019.6L1111.7 1019.7L1112.6 1019.4L1113.5 1019.6L1114.3 1020.1L1115.2 1019.1L1116.1 1018.9L1117.0 1018.2L1117.9 1018.8L1118.8 1018.4L1119.6 1017.3L1120.5 1019.5L1121.4 1017.3L1122.3 1016.8L1123.2 1016.3L1124.1 1015.5L1125.0 1018.3L1125.8 1016.9L1126.7 1016.3L1127.6 1015.4L1128.5 1017.6L1129.4 1017.8L1130.3 1015.3L1131.1 1013.9L1132.0 1013.3L1132.9 1012.6L1133.8 1012.0L1134.7 1013.9L1135.5 1013.5L1136.4 1016.7L1137.3 1014.8L1138.2 1015.0L1139.1 1013.7L1139.9 1014.9L1140.8 1015.4L1141.7 1012.8L1142.6 1013.2L1143.5 1014.1L1144.4 1013.7L1145.2 1012.5L1146.1 1012.6L1147.0 1013.3L1147.9 1013.1L1148.8 1011.9L1149.7 1012.2L1150.6 1009.3L1151.5 1011.4L1152.3 1012.7L1153.2 1012.7L1154.1 1011.4L1155.0 1012.2L1155.9 1012.3L1156.8 1011.8L1157.7 1010.7L1158.6 1010.0L1159.5 1011.2L1160.4 1011.0L1161.3 1010.6L1162.2 1014.3L1163.1 1012.2L1164.0 1012.5L1164.9 1011.2L1165.8 1009.5L1166.7 1011.6L1167.6 1009.7L1168.5 1012.3L1169.4 1008.5L1170.3 1009.1L1171.2 1010.4L1172.1 1011.1L1173.0 1011.3L1173.9 1011.8L1174.8 1011.5L1175.7 1012.7L1176.6 1010.2L1177.5 1013.1L1178.4 1012.7L1179.3 1011.3L1180.2 1009.7L1181.1 1012.7L1182.0 1011.0L1182.9 1007.8L1183.8 1011.0L1184.7 1009.7L1185.6 1009.1L1186.5 1009.4L1187.4 1008.4L1188.3 1009.2L1189.2 1010.2L1190.1 1007.9L1191.0 1007.3L1191.9 1007.0L1192.8 1009.9L1193.7 1008.7L1194.6 1009.4L1195.5 1009.0L1196.4 1010.1L1197.3 1009.8L1198.2 1008.3L1199.1 1010.6L1200.0 1010.3L1200.9 1010.4L1201.8 1009.0L1202.7 1008.6L1203.6 1008.4L1204.5 1008.5L1205.4 1009.1L1206.3 1009.7L1207.2 1009.6L1208.1 1009.7L1209.0 1010.0L1209.9 1009.9L1210.8 1009.9L1211.7 1009.4L1212.6 1009.2L1213.5 1011.2L1214.4 1011.1L1215.3 1010.7L1216.2 1011.0L1217.1 1010.4L1218.0 1011.7L1218.9 1009.8L1219.7 1013.9L1220.6 1011.9L1221.5 1011.5L1222.4 1012.6L1223.3 1011.9L1224.2 1011.6L1225.1 1013.3L1226.0 1012.5L1226.9 1011.5L1227.8 1012.6L1228.7 1012.3L1229.6 1012.4L1230.5 1012.1L1231.4 1013.8L1232.3 1011.4L1233.2 1012.4L1234.1 1012.7L1235.0 1010.6L1235.9 1012.3L1236.8 1010.6L1237.7 1012.7L1238.6 1011.0L1239.5 1011.3L1240.4 1013.5L1241.3 1015.5L1242.1 1015.6L1243.0 1014.3L1243.9 1013.1L1244.8 1014.1L1245.7 1017.1L1246.6 1016.0L1247.5 1012.6L1248.4 1012.5L1249.3 1011.5L1250.2 1013.7L1251.1 1013.2L1252.0 1012.3L1252.8 1013.7L1253.7 1013.1L1254.6 1012.0L1255.5 1012.6L1256.4 1014.3L1257.3 1013.0L1258.2 1013.8L1259.0 1012.8L1259.9 1014.2L1260.8 1016.7L1261.7 1016.3L1262.6 1015.6L1263.4 1016.9L1264.3 1019.9L1265.2 1018.8L1266.1 1017.8L1267.0 1019.1L1267.8 1017.5L1268.7 1017.4L1269.6 1018.8L1270.5 1017.2L1271.4 1018.2L1272.2 1018.4L1273.1 1020.3L1274.0 1020.4L1274.9 1022.0L1275.8 1020.4L1276.6 1019.6L1277.5 1020.2L1278.4 1019.6L1279.3 1021.3L1280.2 1023.4L1281.0 1024.1L1281.9 1024.7L1282.8 1023.8L1283.7 1023.3L1284.6 1025.2L1285.4 1023.9L1286.3 1026.3L1287.2 1021.2L1288.1 1022.3L1288.9 1022.9L1289.8 1021.9L1290.7 1022.6L1291.6 1023.8L1292.5 1020.8L1293.3 1022.8L1294.2 1021.9L1295.1 1022.8L1296.0 1026.4L1296.8 1025.9L1297.7 1025.9L1298.6 1025.2L1299.5 1025.6L1300.4 1024.9L1301.2 1026.8L1302.1 1025.3L1303.0 1024.9L1303.9 1026.0L1304.7 1027.8L1305.6 1026.8L1306.5 1027.2L1307.4 1026.1L1308.2 1025.5L1309.1 1030.9L1310.0 1028.9L1310.9 1031.2L1311.7 1029.7L1312.6 1029.0L1313.5 1027.2L1314.4 1028.0L1315.2 1028.0L1316.1 1027.0L1317.0 1029.4L1317.9 1030.7L1318.7 1029.9L1319.6 1029.3L1320.5 1027.2L1321.4 1032.3L1322.2 1030.8L1323.1 1029.7L1324.0 1030.7L1324.9 1031.8L1325.7 1031.6L1326.6 1032.9L1327.5 1032.0L1328.4 1033.1L1329.2 1032.5L1330.1 1032.6L1331.0 1031.3L1331.9 1032.6L1332.7 1032.8L1333.6 1032.3L1334.5 1032.1L1335.3 1034.2L1336.2 1032.0L1337.1 1032.9L1338.0 1034.5L1338.8 1036.0L1339.7 1034.3L1340.6 1034.4L1341.4 1035.3L1342.3 1033.7L1343.2 1035.3L1344.1 1036.0L1344.9 1036.6L1345.8 1033.9L1346.7 1034.0L1347.5 1036.1L1348.4 1036.3L1349.3 1034.8L1350.2 1036.5L1351.0 1038.3L1351.9 1037.9L1352.8 1036.8L1353.6 1039.1L1354.5 1039.6L1355.4 1037.0L1356.2 1039.7L1357.1 1037.7L1358.0 1035.9L1358.9 1038.0L1359.7 1036.5L1360.6 1040.6L1361.5 1040.7L1362.3 1042.5L1363.2 1038.1L1364.1 1039.7L1365.0 1041.5L1365.8 1041.9L1366.7 1041.6L1367.6 1041.1L1368.4 1041.1L1369.3 1041.7L1370.2 1043.2L1371.0 1039.9L1371.9 1041.2L1372.8 1041.8L1373.6 1042.3L1374.5 1042.5L1375.4 1042.1L1376.2 1043.1L1377.1 1044.7L1378.0 1046.1L1378.8 1045.1L1379.7 1046.9L1380.6 1047.5L1381.4 1049.2L1382.3 1044.8L1383.2 1045.7L1384.0 1045.7L1384.9 1045.4L1385.8 1047.2L1386.6 1046.7L1387.5 1046.8L1388.3 1047.9L1389.2 1048.7L1390.1 1047.9L1390.9 1047.6L1391.8 1049.2L1392.7 1047.1L1393.5 1049.0L1394.4 1048.2L1395.2 1048.2L1396.1 1048.5L1396.9 1048.1L1397.8 1050.8L1398.7 1051.2L1399.5 1051.0L1400.4 1051.2L1401.2 1052.0L1402.1 1052.3L1402.9 1053.2L1403.8 1051.2L1404.7 1051.1L1405.5 1054.9L1406.4 1054.9L1407.2 1053.6L1408.1 1051.6L1408.9 1054.8L1409.8 1056.8L1410.6 1054.5L1411.5 1054.1L1412.3 1055.1L1413.2 1055.8L1414.0 1057.6L1414.9 1057.9L1415.8 1055.9L1416.6 1057.8L1417.5 1057.7L1418.3 1056.8L1419.2 1057.5L1420.0 1055.2L1420.9 1056.4L1421.7 1055.9L1422.6 1058.2L1423.4 1060.2L1424.3 1058.6L1425.2 1061.9L1426.0 1062.8L1426.9 1061.8L1427.7 1063.5L1428.6 1062.0L1429.4 1064.5L1430.3 1061.4L1431.2 1059.4L1432.0 1060.8L1432.9 1060.9L1433.7 1064.0L1434.6 1064.9L1435.5 1065.3L1436.3 1064.2L1437.2 1063.1L1438.1 1063.0L1438.9 1063.0L1439.8 1065.6L1440.7 1062.9L1441.5 1063.1L1442.4 1063.5L1443.2 1064.6L1444.1 1063.7L1445.0 1064.7L1445.8 1065.0L1446.7 1066.9L1447.6 1063.8L1448.4 1063.9L1449.3 1066.4L1450.2 1067.8L1451.0 1069.3L1451.9 1067.0L1452.8 1068.3L1453.6 1065.9L1454.5 1070.0L1455.4 1071.3L1456.2 1072.1L1457.1 1070.5L1457.9 1072.6L1458.8 1073.4L1459.7 1072.5L1460.5 1073.1L1461.4 1073.0L1462.3 1074.0L1463.1 1075.4L1464.0 1073.9L1464.8 1072.8L1465.7 1072.7L1466.5 1072.0L1467.4 1074.6L1468.3 1074.0L1469.1 1072.7L1470.0 1070.4L1470.8 1071.5L1471.7 1071.2L1472.5 1071.0L1473.4 1075.5L1474.2 1071.0L1475.1 1074.9L1475.9 1076.5L1476.7 1073.1L1477.6 1073.0L1478.4 1075.1L1479.3 1073.7L1480.1 1075.2L1481.0 1076.3L1481.8 1074.8L1482.7 1078.6L1483.5 1077.2L1484.3 1077.7L1485.2 1079.2L1486.0 1076.0L1486.9 1076.1L1487.7 1077.8L1488.5 1077.8L1489.4 1077.4L1490.2 1078.8L1491.1 1080.0L1491.9 1079.9L1492.7 1079.8L1493.6 1080.5L1494.4 1081.6L1495.3 1082.7L1496.1 1081.7L1496.9 1085.7L1497.8 1086.1L1498.6 1083.6L1499.5 1083.1L1500.3 1084.5L1501.1 1086.1L1502.0 1085.8L1502.8 1088.7L1503.7 1085.9L1504.5 1086.7L1505.3 1086.2L1506.2 1089.6L1507.0 1088.9L1507.9 1089.6L1508.7 1088.4L1509.6 1089.6L1510.4 1089.2L1511.3 1094.8L1512.1 1090.5L1512.9 1089.8L1513.8 1090.3L1514.6 1091.4L1515.5 1092.3L1516.3 1089.9L1517.2 1094.0L1518.0 1093.0L1518.9 1093.5L1519.7 1096.5L1520.6 1094.9L1521.4 1093.2L1522.3 1092.4L1523.1 1094.0L1524.0 1093.3L1524.8 1093.7L1525.7 1092.5L1526.5 1095.0L1527.3 1094.4L1528.2 1094.3L1529.0 1096.9L1529.9 1096.1L1530.7 1095.5L1531.6 1097.1L1532.4 1098.6L1533.3 1095.0L1534.1 1097.9L1535.0 1096.9L1535.8 1096.7L1536.7 1098.3L1537.5 1096.8L1538.4 1094.4L1539.2 1096.6L1540.1 1096.0L1540.9 1097.5L1541.8 1096.1L1542.7 1097.0L1543.5 1097.4L1544.4 1097.5L1545.2 1099.7L1546.1 1101.6L1546.9 1099.1L1547.8 1098.2L1548.6 1102.2L1549.5 1101.3L1550.3 1100.7L1551.2 1102.9L1552.1 1104.8L1552.9 1103.8L1553.8 1103.3L1554.6 1103.7L1555.5 1105.0L1556.3 1106.7L1557.2 1108.1L1558.1 1109.5L1558.9 1112.0L1559.8 1109.4L1560.7 1108.8L1561.5 1106.9L1562.4 1107.9L1563.2 1106.6L1564.1 1107.9L1565.0 1106.9L1565.8 1110.0L1566.7 1111.4L1567.6 1109.9L1568.4 1111.6L1569.3 1106.8L1570.2 1109.1L1571.0 1108.1L1571.9 1108.6L1572.7 1107.5L1573.6 1109.4L1574.5 1109.9L1575.3 1109.6L1576.2 1111.9L1577.1 1111.3L1577.9 1111.6L1578.8 1109.6L1579.7 1109.7L1580.5 1109.3L1581.4 1111.8L1582.2 1112.1L1583.1 1111.2L1584.0 1110.6L1584.8 1111.6L1585.7 1112.4L1586.6 1113.4L1587.4 1113.6L1588.3 1115.5L1589.1 1115.1L1590.0 1112.3L1590.9 1114.5L1591.7 1115.0L1592.6 1113.8L1593.4 1114.8L1594.3 1115.7L1595.1 1116.7L1596.0 1115.0L1596.8 1116.8L1597.7 1117.9L1598.5 1117.1L1599.4 1114.5L1600.3 1116.6L1601.1 1115.7L1602.0 1117.1L1602.8 1117.6L1603.7 1116.0L1604.5 1114.9L1605.4 1115.1L1606.2 1116.1L1607.1 1116.5L1608.0 1117.1L1608.8 1114.8L1609.7 1115.2L1610.5 1114.7L1611.4 1116.1L1612.3 1117.8L1613.1 1121.3L1614.0 1121.8L1614.9 1121.6L1615.7 1120.9L1616.6 1121.6L1617.5 1122.7L1618.4 1122.4L1619.2 1122.1L1620.1 1119.7L1621.0 1120.7L1621.8 1119.7L1622.7 1121.6L1623.6 1122.6L1624.5 1126.9L1625.3 1124.0L1626.2 1125.0L1627.1 1122.2L1627.9 1124.4L1628.8 1123.4L1629.6 1125.1L1630.5 1123.8L1631.4 1123.5L1632.2 1126.7L1633.1 1126.2L1633.9 1124.6L1634.8 1126.8L1635.6 1127.5L1636.5 1131.0L1637.3 1130.5L1638.2 1130.3L1639.0 1128.2L1639.8 1130.7L1640.7 1128.0L1641.5 1129.6L1642.4 1130.6L1643.2 1132.4L1644.1 1130.4L1644.9 1130.6L1645.8 1130.1L1646.6 1127.7L1647.5 1130.4L1648.3 1128.2L1649.2 1129.6L1650.0 1130.1L1650.9 1132.5L1651.7 1131.0L1652.6 1132.2L1653.5 1134.2L1654.3 1135.2L1655.2 1137.9L1656.0 1137.3L1656.9 1137.5L1657.8 1136.9L1658.6 1136.6L1659.5 1139.1L1660.4 1139.4L1661.2 1138.0L1662.1 1137.6L1663.0 1135.5L1663.8 1140.1L1664.7 1139.3L1665.5 1134.6L1666.4 1135.5L1667.3 1136.4L1668.1 1139.1L1669.0 1137.9L1669.9 1139.2L1670.7 1140.3L1671.6 1140.6L1672.4 1139.4L1673.3 1139.4L1674.2 1140.9L1675.0 1142.3L1675.9 1141.4L1676.7 1138.0L1677.6 1139.5L1678.5 1137.1L1679.3 1138.0L1680.2 1139.9L1681.1 1139.1L1681.9 1138.8L1682.8 1139.5L1683.7 1141.7L1684.6 1143.1L1685.4 1143.7L1686.3 1143.3L1687.2 1144.8L1688.0 1145.4L1688.9 1143.2L1689.8 1146.0L1690.7 1145.0L1691.5 1146.3L1692.4 1149.2L1693.3 1147.6L1694.2 1149.2L1695.0 1151.1L1695.9 1150.5L1696.8 1148.2L1697.7 1147.6L1698.5 1150.1L1699.4 1148.4L1700.3 1148.5L1701.2 1146.9L1702.0 1149.4L1702.9 1147.3L1703.8 1149.0L1704.6 1152.0L1705.5 1152.0L1706.4 1153.2L1707.3 1151.8L1708.1 1152.3L1709.0 1151.1L1709.9 1154.2L1710.7 1151.0L1711.6 1150.1L1712.5 1151.4L1713.4 1152.8L1714.2 1150.0L1715.1 1150.6L1716.0 1149.4L1716.9 1151.5L1717.7 1150.6L1718.6 1149.8L1719.5 1150.0L1720.4 1150.2L1721.3 1150.4L1722.1 1147.3L1723.0 1144.9L1723.9 1145.3L1724.8 1145.0L1725.7 1146.9L1726.6 1146.2L1727.5 1147.9L1728.4 1147.4L1729.3 1150.6L1730.1 1147.5L1731.0 1149.0L1731.9 1149.0L1732.8 1153.5L1733.7 1149.0L1734.6 1151.6L1735.5 1153.1L1736.4 1151.8L1737.3 1153.4L1738.2 1152.0L1739.1 1153.2L1740.0 1151.8L1740.8 1155.1L1741.7 1152.6L1742.6 1157.0L1743.5 1155.7L1744.4 1155.5L1745.3 1156.5L1746.2 1155.4L1747.1 1155.8L1748.0 1157.5L1748.9 1155.5L1749.8 1157.3L1750.7 1159.4L1751.6 1157.0L1752.4 1159.8L1753.3 1157.5L1754.2 1160.0L1755.1 1160.3L1756.0 1158.4L1756.9 1161.2L1757.8 1158.3L1758.7 1161.8L1759.5 1161.9L1760.4 1159.0L1761.3 1159.9L1762.2 1159.9L1763.1 1158.6L1763.9 1159.4L1764.8 1160.6L1765.7 1161.0L1766.5 1162.8L1767.4 1160.6L1768.3 1160.9L1769.1 1163.7L1770.0 1164.7L1770.9 1163.2L1771.8 1163.1L1772.6 1161.2L1773.5 1161.2L1774.4 1158.9L1775.2 1159.7L1776.1 1163.1L1777.0 1161.1L1777.9 1161.2L1778.7 1164.6L1779.6 1167.5L1780.5 1166.6L1781.4 1165.8L1782.3 1164.3L1783.2 1165.5L1784.1 1165.1L1785.0 1164.2L1785.9 1164.4L1786.8 1165.1L1787.7 1165.6L1788.6 1165.1L1789.5 1165.2L1790.4 1165.5L1791.3 1164.6L1792.2 1166.9L1793.1 1168.6L1794.0 1166.9L1794.9 1167.4L1795.8 1169.6L1796.6 1167.4L1797.5 1169.4L1798.4 1167.5L1799.3 1166.3L1800.2 1169.1L1801.1 1169.0L1802.0 1167.8L1802.9 1166.1L1803.8 1167.2L1804.6 1165.6L1805.5 1166.7L1806.4 1168.5L1807.3 1168.5L1808.2 1166.7L1809.0 1167.9L1809.9 1168.6L1810.8 1164.9L1811.7 1165.2L1812.6 1165.2L1813.4 1167.1L1814.3 1165.1L1815.2 1169.1L1816.1 1166.3L1817.0 1168.9L1817.9 1168.7L1818.7 1169.5L1819.6 1172.1L1820.5 1170.8L1821.4 1173.5L1822.3 1171.0L1823.2 1167.2L1824.1 1169.1L1825.0 1166.6L1825.9 1169.7L1826.8 1168.6L1827.7 1168.5L1828.6 1171.1L1829.5 1170.0L1830.4 1168.9L1831.3 1169.3L1832.2 1166.2L1833.1 1167.9L1834.0 1164.8L1834.9 1167.1L1835.8 1166.2L1836.7 1167.4L1837.6 1164.4L1838.5 1165.3L1839.4 1166.7L1840.3 1164.9L1841.2 1167.1L1842.1 1168.5L1843.0 1167.8L1843.9 1167.9L1844.8 1169.2L1845.6 1169.3L1846.5 1166.0L1847.4 1167.3L1848.3 1165.4L1849.2 1169.5L1850.1 1170.8L1851.0 1168.8L1851.9 1168.5L1852.8 1171.2L1853.6 1171.5L1854.5 1176.5L1855.4 1176.6L1856.3 1172.3L1857.2 1175.3L1858.1 1175.4L1859.0 1176.3L1859.9 1176.6L1860.8 1175.3L1861.7 1176.8L1862.6 1174.9L1863.4 1177.8L1864.3 1176.9L1865.2 1178.2L1866.1 1174.8L1867.0 1175.9L1867.9 1176.0L1868.8 1175.7L1869.7 1176.2L1870.6 1174.4L1871.5 1176.4L1872.4 1174.8L1873.3 1175.6L1874.2 1175.3L1875.1 1174.9L1876.0 1176.0L1876.9 1179.5L1877.8 1179.7L1878.7 1177.7L1879.6 1180.2L1880.5 1175.8L1881.4 1178.9L1882.3 1177.8L1883.2 1175.3L1884.1 1172.1L1885.0 1174.7L1885.9 1177.1L1886.8 1176.5L1887.7 1173.6L1888.6 1174.2L1889.5 1175.1L1890.4 1173.6L1891.3 1174.3L1892.2 1173.1L1893.1 1174.2L1894.0 1172.8L1894.9 1173.1L1895.8 1172.2L1896.7 1173.7L1897.6 1175.0L1898.5 1174.4L1899.4 1172.7L1900.2 1176.5L1901.1 1174.8L1902.0 1177.5L1902.9 1176.6L1903.8 1180.3L1904.7 1178.0L1905.6 1179.7L1906.5 1176.3L1907.4 1177.6L1908.3 1177.3L1909.2 1175.0L1909.3 1176.3" stroke="#f00"/>
<path id="blk" d="M281.7 251.2L283.7 251.2L285.7 251.2L287.7 251.2L289.7 251.2L291.7 251.2L293.7 251.2L295.7 251.2L297.7 251.2L299.7 251.2L301.7 251.2L303.7 251.2L305.7 251.2L307.7 251.2L309.7 251.2L311.7 251.3L313.7 251.3L315.7 251.3L317.7 251.4L319.7 251.5L321.7 251.8L323.7 252.0L325.6 252.4L327.6 252.9L329.5 253.4L331.4 254.1L333.2 255.0L334.9 256.1L336.6 257.2L338.2 258.4L339.7 259.7L341.1 261.1L342.5 262.6L343.8 264.2L344.9 265.8L346.0 267.5L346.9 269.2L347.7 271.0L348.4 272.9L349.1 274.8L349.8 276.7L350.5 278.6L351.2 280.5L351.9 282.3L352.7 284.2L353.4 286.0L354.2 287.9L354.9 289.7L355.6 291.6L356.3 293.5L357.0 295.4L357.6 297.3L358.2 299.2L358.8 301.1L359.3 303.0L359.8 304.9L360.3 306.9L360.7 308.8L361.2 310.8L361.6 312.8L362.0 314.7L362.4 316.7L362.8 318.6L363.1 320.6L363.4 322.6L363.8 324.6L364.1 326.5L364.4 328.5L364.7 330.5L365.0 332.5L365.3 334.4L365.6 336.4L365.9 338.4L366.3 340.4L366.6 342.3L367.0 344.3L367.3 346.3L367.7 348.2L368.0 350.2L368.4 352.2L368.7 354.1L369.1 356.1L369.5 358.1L369.8 360.0L370.2 362.0L370.5 364.0L370.8 366.0L371.2 367.9L371.5 369.9L371.8 371.9L372.1 373.9L372.4 375.8L372.7 377.8L373.0 379.8L373.2 381.8L373.5 383.8L373.8 385.7L374.1 387.7L374.3 389.7L374.6 391.7L374.8 393.7L375.1 395.6L375.4 397.6L375.6 399.6L375.9 401.6L376.1 403.6L376.4 405.6L376.7 407.5L376.9 409.5L377.2 411.5L377.5 413.5L377.8 415.5L378.0 417.5L378.3 419.4L378.6 421.4L378.9 423.4L379.1 425.4L379.4 427.4L379.7 429.3L379.9 431.3L380.2 433.3L380.5 435.3L380.7 437.3L381.0 439.3L381.2 441.2L381.5 443.2L381.8 445.2L382.0 447.2L382.2 449.2L382.5 451.2L382.7 453.1L383.0 455.1L383.2 457.1L383.5 459.1L383.7 461.1L383.9 463.1L384.2 465.1L384.4 467.0L384.6 469.0L384.9 471.0L385.1 473.0L385.3 475.0L385.6 477.0L385.8 479.0L386.0 480.9L386.3 482.9L386.5 484.9L386.7 486.9L387.0 488.9L387.2 490.9L387.4 492.9L387.7 494.9L387.9 496.8L388.1 498.8L388.3 500.8L388.6 502.8L388.8 504.8L389.0 506.8L389.3 508.8L389.5 510.7L389.7 512.7L389.9 514.7L390.2 516.7L390.4 518.7L390.6 520.7L390.8 522.7L391.1 524.7L391.3 526.6L391.5 528.6L391.8 530.6L392.0 532.6L392.2 534.6L392.4 536.6L392.7 538.6L392.9 540.6L393.1 542.5L393.3 544.5L393.6 546.5L393.8 548.5L394.0 550.5L394.3 552.5L394.5 554.5L394.7 556.4L394.9 558.4L395.2 560.4L395.4 562.4L395.6 564.4L395.9 566.4L396.1 568.4L396.4 570.4L396.6 572.3L396.8 574.3L397.1 576.3L397.3 578.3L397.6 580.3L397.8 582.3L398.0 584.2L398.3 586.2L398.5 588.2L398.8 590.2L399.0 592.2L399.3 594.2L399.5 596.2L399.7 598.1L400.0 600.1L400.2 602.1L400.4 604.1L400.6 606.1L400.9 608.1L401.1 610.1L401.3 612.1L401.5 614.0L401.7 616.0L401.9 618.0L402.2 620.0L402.4 622.0L402.6 624.0L402.8 626.0L403.0 628.0L403.2 630.0L403.4 631.9L403.6 633.9L403.8 635.9L404.0 637.9L404.3 639.9L404.5 641.9L404.7 643.9L404.9 645.9L405.1 647.9L405.3 649.8L405.5 651.8L405.7 653.8L406.0 655.8L406.2 657.8L406.4 659.8L406.6 661.8L406.8 663.8L407.1 665.8L407.3 667.7L407.5 669.7L407.7 671.7L407.9 673.7L408.1 675.7L408.4 677.7L408.6 679.7L408.8 681.7L409.0 683.6L409.3 685.6L409.5 687.6L409.7 689.6L410.0 691.6L410.2 693.6L410.5 695.6L410.7 697.5L411.0 699.5L411.3 701.5L411.6 703.5L411.8 705.5L412.1 707.4L412.4 709.4L412.7 711.4L413.0 713.4L413.4 715.3L413.7 717.3L414.0 719.3L414.3 721.3L414.6 723.2L414.9 725.2L415.3 727.2L415.6 729.2L415.9 731.1L416.2 733.1L416.5 735.1L416.9 737.1L417.2 739.0L417.5 741.0L417.8 743.0L418.1 745.0L418.4 747.0L418.7 748.9L419.0 750.9L419.3 752.9L419.6 754.9L419.9 756.8L420.2 758.8L420.6 760.8L420.9 762.8L421.2 764.7L421.5 766.7L421.8 768.7L422.2 770.7L422.5 772.6L422.8 774.6L423.2 776.6L423.5 778.5L423.8 780.5L424.2 782.5L424.5 784.5L424.9 786.4L425.2 788.4L425.6 790.4L425.9 792.3L426.3 794.3L426.6 796.3L427.0 798.3L427.3 800.2L427.7 802.2L428.1 804.2L428.5 806.1L428.9 808.1L429.3 810.0L429.7 812.0L430.1 813.9L430.5 815.9L431.0 817.8L431.4 819.8L431.9 821.7L432.4 823.7L432.9 825.6L433.4 827.5L433.9 829.5L434.4 831.4L434.9 833.3L435.5 835.2L436.1 837.2L436.6 839.1L437.2 841.0L437.8 842.9L438.4 844.8L438.9 846.8L439.5 848.7L440.1 850.6L440.7 852.5L441.4 854.4L442.0 856.3L442.6 858.2L443.2 860.1L443.8 862.0L444.4 863.9L445.0 865.9L445.6 867.8L446.3 869.7L446.9 871.6L447.6 873.4L448.3 875.3L449.1 877.1L449.9 878.9L450.8 880.7L451.7 882.5L452.7 884.2L453.7 885.9L454.8 887.7L455.8 889.4L456.9 891.0L458.1 892.7L459.2 894.4L460.3 896.0L461.5 897.7L462.6 899.3L463.8 900.9L465.0 902.6L466.2 904.2L467.4 905.8L468.7 907.3L470.0 908.8L471.3 910.3L472.7 911.7L474.1 913.1L475.6 914.4L477.1 915.7L478.6 917.0L480.2 918.3L481.8 919.5L483.3 920.8L484.9 922.0L486.5 923.2L488.1 924.5L489.7 925.7L491.2 927.0L492.8 928.2L494.4 929.5L495.9 930.7L497.5 932.0L499.1 933.2L500.6 934.4L502.2 935.7L503.8 936.9L505.3 938.2L506.9 939.4L508.4 940.7L510.0 942.0L511.5 943.3L513.0 944.6L514.5 945.9L516.0 947.2L517.5 948.5L519.0 949.8L520.5 951.2L522.0 952.5L523.5 953.9L525.0 955.2L526.4 956.6L527.9 958.0L529.3 959.3L530.8 960.7L532.2 962.1L533.6 963.5L535.0 965.0L536.4 966.4L537.8 967.8L539.2 969.3L540.6 970.7L542.0 972.2L543.3 973.6L544.7 975.1L546.1 976.6L547.4 978.1L548.7 979.5L550.0 981.0L551.3 982.6L552.6 984.1L553.9 985.6L555.2 987.1L556.4 988.7L557.7 990.3L558.9 991.8L560.2 993.4L561.4 995.0L562.7 996.6L563.9 998.1L565.1 999.7L566.3 1001.3L567.6 1002.9L568.8 1004.5L570.0 1006.0L571.3 1007.6L572.5 1009.2L573.7 1010.8L574.9 1012.4L576.1 1014.0L577.3 1015.6L578.5 1017.1L579.8 1018.7L581.0 1020.3L582.2 1021.9L583.4 1023.5L584.6 1025.1L585.8 1026.7L587.1 1028.3L588.3 1029.8L589.5 1031.4L590.8 1033.0L592.0 1034.5L593.3 1036.1L594.5 1037.6L595.8 1039.2L597.1 1040.7L598.4 1042.3L599.6 1043.8L600.9 1045.3L602.2 1046.9L603.5 1048.4L604.8 1049.9L606.1 1051.5L607.4 1053.0L608.7 1054.5L610.0 1056.0L611.3 1057.5L612.6 1059.0L613.9 1060.5L615.3 1062.0L616.6 1063.5L617.9 1065.0L619.3 1066.5L620.6 1068.0L622.0 1069.5L623.3 1070.9L624.7 1072.4L626.0 1073.9L627.4 1075.3L628.8 1076.8L630.2 1078.2L631.6 1079.6L633.0 1081.1L634.4 1082.5L635.8 1084.0L637.2 1085.4L638.6 1086.9L640.0 1088.3L641.5 1089.7L642.9 1091.1L644.4 1092.4L645.9 1093.7L647.4 1095.0L649.0 1096.2L650.5 1097.4L652.1 1098.6L653.8 1099.7L655.4 1100.8L657.1 1101.9L658.8 1103.0L660.6 1104.1L662.3 1105.1L664.1 1106.1L665.8 1107.0L667.6 1107.9L669.4 1108.7L671.2 1109.5L673.1 1110.4L674.9 1111.2L676.8 1112.0L678.6 1112.8L680.5 1113.5L682.4 1114.2L684.4 1114.8L686.3 1115.3L688.2 1115.7L690.2 1116.0L692.1 1116.3L694.1 1116.5L696.1 1116.7L698.1 1116.9L700.1 1117.1L702.1 1117.3L704.1 1117.4L706.1 1117.5L708.1 1117.6L710.1 1117.6L712.1 1117.5L714.1 1117.4L716.1 1117.2L718.1 1116.9L720.1 1116.6L722.0 1116.2L724.0 1115.8L726.0 1115.3L727.9 1114.9L729.9 1114.4L731.8 1114.0L733.7 1113.4L735.6 1112.8L737.5 1112.2L739.4 1111.5L741.2 1110.7L743.1 1110.0L745.0 1109.2L746.8 1108.4L748.6 1107.6L750.5 1106.8L752.3 1106.0L754.1 1105.2L755.9 1104.3L757.7 1103.4L759.5 1102.5L761.3 1101.6L763.1 1100.7L764.9 1099.8L766.6 1098.8L768.4 1097.9L770.1 1096.9L771.9 1096.0L773.6 1095.0L775.4 1094.0L777.1 1093.0L778.8 1091.9L780.5 1090.9L782.2 1089.8L783.9 1088.8L785.6 1087.7L787.3 1086.7L789.0 1085.6L790.7 1084.6L792.4 1083.5L794.1 1082.4L795.8 1081.3L797.4 1080.2L799.1 1079.1L800.8 1078.0L802.5 1076.9L804.1 1075.8L805.8 1074.7L807.5 1073.6L809.2 1072.6L810.8 1071.5L812.5 1070.4L814.2 1069.3L815.9 1068.2L817.5 1067.1L819.2 1066.0L820.9 1064.9L822.6 1063.8L824.2 1062.7L825.9 1061.7L827.6 1060.6L829.3 1059.5L830.9 1058.4L832.6 1057.3L834.3 1056.2L836.0 1055.1L837.6 1053.9L839.3 1052.8L841.0 1051.7L842.6 1050.6L844.3 1049.5L846.0 1048.5L847.7 1047.4L849.4 1046.4L851.1 1045.3L852.8 1044.3L854.6 1043.4L856.3 1042.4L858.1 1041.4L859.8 1040.5L861.6 1039.5L863.4 1038.6L865.1 1037.6L866.9 1036.7L868.6 1035.7L870.4 1034.8L872.1 1033.8L873.9 1032.8L875.6 1031.9L877.4 1030.9L879.1 1029.9L880.9 1028.9L882.6 1028.0L884.4 1027.0L886.1 1026.1L887.9 1025.1L889.7 1024.2L891.4 1023.2L893.2 1022.3L895.0 1021.4L896.8 1020.5L898.6 1019.6L900.4 1018.7L902.1 1017.8L903.9 1016.9L905.7 1016.0L907.5 1015.2L909.3 1014.3L911.1 1013.5L913.0 1012.6L914.8 1011.8L916.6 1010.9L918.4 1010.1L920.2 1009.3L922.1 1008.5L923.9 1007.6L925.7 1006.8L927.6 1006.0L929.4 1005.3L931.2 1004.5L933.1 1003.7L934.9 1002.9L936.8 1002.1L938.6 1001.3L940.4 1000.5L942.3 999.8L944.2 999.0L946.0 998.3L947.9 997.7L949.8 997.1L951.7 996.5L953.6 995.9L955.5 995.3L957.5 994.8L959.4 994.3L961.4 993.8L963.3 993.3L965.3 992.9L967.2 992.5L969.2 992.1L971.2 991.8L973.1 991.5L975.1 991.2L977.1 991.0L979.1 990.7L981.1 990.5L983.1 990.2L985.1 990.0L987.0 989.9L989.0 989.7L991.0 989.5L993.0 989.4L995.0 989.2L997.0 989.1L999.0 988.9L1001.0 988.8L1003.0 988.7L1005.0 988.6L1007.0 988.5L1009.0 988.4L1011.0 988.4L1013.0 988.3L1015.0 988.3L1017.0 988.2L1019.0 988.1L1021.0 988.1L1023.0 988.1L1025.0 988.0L1027.0 988.0L1029.0 988.0L1031.0 988.0L1033.0 988.0L1035.0 988.0L1037.0 988.0L1039.0 988.0L1041.0 988.0L1043.0 988.0L1045.0 988.0L1047.0 988.0L1049.0 988.0L1051.0 988.0L1053.0 988.0L1055.0 988.0L1057.0 988.1L1059.0 988.1L1061.0 988.2L1063.0 988.3L1065.0 988.4L1067.0 988.5L1069.0 988.6L1071.0 988.7L1073.0 988.8L1075.0 989.0L1077.0 989.2L1078.9 989.4L1080.9 989.7L1082.9 990.0L1084.9 990.3L1086.9 990.6L1088.9 990.8L1090.8 991.1L1092.8 991.4L1094.8 991.7L1096.8 991.9L1098.8 992.2L1100.7 992.5L1102.7 992.8L1104.7 993.1L1106.7 993.4L1108.6 993.8L1110.6 994.1L1112.6 994.5L1114.5 994.8L1116.5 995.2L1118.5 995.6L1120.4 996.0L1122.4 996.4L1124.4 996.8L1126.3 997.2L1128.3 997.6L1130.2 998.0L1132.2 998.5L1134.1 999.0L1136.1 999.4L1138.0 999.9L1139.9 1000.4L1141.9 1000.9L1143.8 1001.4L1145.7 1001.9L1147.7 1002.4L1149.6 1002.9L1151.6 1003.4L1153.5 1003.9L1155.4 1004.3L1157.4 1004.8L1159.3 1005.3L1161.3 1005.8L1163.2 1006.2L1165.2 1006.7L1167.1 1007.2L1169.0 1007.7L1171.0 1008.3L1172.9 1008.8L1174.8 1009.4L1176.7 1009.9L1178.6 1010.5L1180.5 1011.1L1182.5 1011.7L1184.4 1012.3L1186.3 1012.9L1188.2 1013.5L1190.1 1014.0L1192.0 1014.6L1193.9 1015.2L1195.9 1015.8L1197.8 1016.3L1199.7 1016.9L1201.6 1017.5L1203.5 1018.1L1205.4 1018.6L1207.3 1019.2L1209.3 1019.8L1211.2 1020.4L1213.1 1020.9L1215.0 1021.5L1216.9 1022.1L1218.8 1022.7L1220.8 1023.2L1222.7 1023.8L1224.6 1024.4L1226.5 1025.0L1228.4 1025.5L1230.3 1026.1L1232.3 1026.7L1234.2 1027.3L1236.1 1027.8L1238.0 1028.4L1239.9 1029.0L1241.8 1029.5L1243.7 1030.1L1245.7 1030.7L1247.6 1031.3L1249.5 1031.8L1251.4 1032.4L1253.3 1033.0L1255.2 1033.6L1257.2 1034.1L1259.1 1034.7L1261.0 1035.2L1262.9 1035.8L1264.8 1036.4L1266.7 1037.0L1268.7 1037.6L1270.6 1038.2L1272.5 1038.8L1274.4 1039.4L1276.3 1040.1L1278.1 1040.7L1280.0 1041.4L1281.9 1042.0L1283.8 1042.7L1285.7 1043.4L1287.6 1044.0L1289.5 1044.7L1291.3 1045.4L1293.2 1046.1L1295.1 1046.8L1297.0 1047.4L1298.9 1048.1L1300.8 1048.8L1302.6 1049.5L1304.5 1050.1L1306.4 1050.8L1308.3 1051.4L1310.2 1052.1L1312.1 1052.7L1314.0 1053.3L1315.9 1054.0L1317.8 1054.6L1319.7 1055.2L1321.6 1055.8L1323.5 1056.5L1325.4 1057.1L1327.3 1057.7L1329.2 1058.3L1331.1 1058.9L1333.0 1059.5L1334.9 1060.1L1336.8 1060.8L1338.7 1061.4L1340.6 1062.0L1342.5 1062.6L1344.4 1063.2L1346.3 1063.8L1348.2 1064.4L1350.1 1065.0L1352.0 1065.7L1353.9 1066.3L1355.8 1066.9L1357.7 1067.5L1359.6 1068.2L1361.5 1068.8L1363.4 1069.4L1365.3 1070.0L1367.2 1070.7L1369.1 1071.3L1371.0 1071.9L1372.9 1072.5L1374.9 1073.2L1376.8 1073.8L1378.7 1074.4L1380.6 1075.0L1382.5 1075.6L1384.4 1076.2L1386.3 1076.8L1388.2 1077.4L1390.1 1078.0L1392.0 1078.6L1393.9 1079.2L1395.8 1079.8L1397.7 1080.4L1399.6 1081.0L1401.6 1081.6L1403.5 1082.2L1405.4 1082.7L1407.3 1083.3L1409.2 1083.9L1411.1 1084.5L1413.0 1085.0L1415.0 1085.6L1416.9 1086.2L1418.8 1086.7L1420.7 1087.3L1422.6 1087.9L1424.6 1088.4L1426.5 1089.0L1428.4 1089.5L1430.3 1090.1L1432.2 1090.6L1434.2 1091.2L1436.1 1091.7L1438.0 1092.3L1439.9 1092.8L1441.9 1093.4L1443.8 1093.9L1445.7 1094.4L1447.6 1095.0L1449.6 1095.5L1451.5 1096.0L1453.4 1096.6L1455.4 1097.1L1457.3 1097.6L1459.2 1098.1L1461.2 1098.7L1463.1 1099.2L1465.0 1099.7L1467.0 1100.2L1468.9 1100.7L1470.8 1101.2L1472.8 1101.7L1474.7 1102.2L1476.6 1102.7L1478.6 1103.2L1480.5 1103.7L1482.4 1104.2L1484.4 1104.7L1486.3 1105.2L1488.3 1105.7L1490.2 1106.2L1492.1 1106.7L1494.1 1107.1L1496.0 1107.6L1498.0 1108.1L1499.9 1108.6L1501.8 1109.0L1503.8 1109.5L1505.7 1110.0L1507.7 1110.4L1509.6 1110.9L1511.6 1111.4L1513.5 1111.8L1515.5 1112.3L1517.4 1112.7L1519.4 1113.2L1521.3 1113.6L1523.3 1114.1L1525.2 1114.5L1527.2 1115.0L1529.1 1115.4L1531.1 1115.9L1533.0 1116.3L1535.0 1116.7L1536.9 1117.2L1538.9 1117.6L1540.8 1118.0L1542.8 1118.5L1544.7 1118.9L1546.7 1119.3L1548.6 1119.7L1550.6 1120.1L1552.6 1120.5L1554.5 1121.0L1556.5 1121.4L1558.4 1121.8L1560.4 1122.2L1562.3 1122.6L1564.3 1123.0L1566.3 1123.4L1568.2 1123.8L1570.2 1124.2L1572.1 1124.6L1574.1 1125.0L1576.1 1125.4L1578.0 1125.8L1580.0 1126.2L1582.0 1126.6L1583.9 1126.9L1585.9 1127.3L1587.9 1127.6L1589.8 1128.0L1591.8 1128.3L1593.8 1128.6L1595.7 1129.0L1597.7 1129.3L1599.7 1129.6L1601.7 1129.9L1603.6 1130.2L1605.6 1130.5L1607.6 1130.9L1609.6 1131.1L1611.5 1131.4L1613.5 1131.7L1615.5 1132.0L1617.5 1132.3L1619.5 1132.6L1621.5 1132.9L1623.4 1133.1L1625.4 1133.4L1627.4 1133.7L1629.4 1133.9L1631.4 1134.2L1633.3 1134.4L1635.3 1134.7L1637.3 1134.9L1639.3 1135.1L1641.3 1135.3L1643.3 1135.5L1645.3 1135.7L1647.3 1135.9L1649.3 1136.2L1651.2 1136.4L1653.2 1136.6L1655.2 1136.8L1657.2 1137.0L1659.2 1137.2L1661.2 1137.4L1663.2 1137.7L1665.2 1137.9L1667.1 1138.1L1669.1 1138.4L1671.1 1138.7L1673.1 1139.0L1675.1 1139.3L1677.0 1139.6L1679.0 1139.9L1681.0 1140.1L1683.0 1140.2L1685.0 1140.4L1687.0 1140.5L1689.0 1140.7L1691.0 1140.8L1693.0 1140.9L1695.0 1141.0L1697.0 1141.1L1699.0 1141.2L1701.0 1141.3L1703.0 1141.4L1705.0 1141.5L1707.0 1141.6L1709.0 1141.7L1711.0 1141.7L1713.0 1141.8L1715.0 1141.9L1717.0 1141.9L1719.0 1142.0L1721.0 1142.0L1723.0 1142.1L1725.0 1142.1L1727.0 1142.2L1729.0 1142.2L1731.0 1142.2L1733.0 1142.3L1735.0 1142.3L1737.0 1142.4L1739.0 1142.4L1741.0 1142.4L1743.0 1142.4L1745.0 1142.5L1747.0 1142.5L1749.0 1142.5L1751.0 1142.6L1753.0 1142.6L1755.0 1142.6L1757.0 1142.7L1759.0 1142.7L1761.0 1142.7L1763.0 1142.7L1765.0 1142.8L1767.0 1142.8L1769.0 1142.8L1771.0 1142.8L1773.0 1142.9L1775.0 1142.9L1777.0 1142.9L1779.0 1143.0L1781.0 1143.0L1782.9 1143.1L1784.9 1143.3L1786.9 1143.4L1788.9 1143.6L1790.9 1143.7L1792.9 1143.9L1794.9 1144.0L1796.9 1144.1L1798.9 1144.2L1800.9 1144.2L1802.9 1144.2L1804.9 1144.1L1806.9 1144.0L1808.9 1143.9L1810.9 1143.8L1812.9 1143.6L1814.9 1143.5L1816.9 1143.4L1818.9 1143.2L1820.9 1142.9L1822.9 1142.7L1824.9 1142.5L1826.9 1142.3L1828.8 1142.2L1830.8 1142.2L1832.8 1142.2L1834.8 1142.2L1836.8 1142.2L1838.8 1142.2L1840.8 1142.2L1842.8 1142.2L1844.8 1142.2L1846.8 1142.2L1848.8 1142.2L1850.8 1142.2L1852.8 1142.3L1854.8 1142.5L1856.8 1142.8L1858.8 1143.0L1860.8 1143.3L1862.8 1143.4L1864.8 1143.5L1866.8 1143.4L1868.8 1143.3L1870.8 1143.1L1872.8 1142.8L1874.7 1142.6L1876.7 1142.4L1878.7 1142.2L1880.7 1142.2L1882.7 1142.2L1884.8 1142.2L1886.8 1142.2L1888.8 1142.2L1890.8 1142.2L1892.8 1142.2L1894.8 1142.2L1896.8 1142.2L1898.8 1142.2L1900.8 1142.3L1902.8 1143.0L1903.9 1144.1L1904.6 1145.7L1905.1 1147.8L1905.6 1150.1L1906.0 1152.1L1906.5 1154.1L1907.0 1156.0L1907.5 1157.9L1908.0 1159.9L1908.4 1161.8L1908.8 1163.8L1909.3 1165.8L1909.3 1166.0" stroke="#000"/>
</g>
<g stroke="#000" fill="none" stroke-linecap="round">
<path d="M304.1 660.3H447" stroke-width="4.2" stroke-dasharray="1.8 21.5"/>
<path d="M407.6 673.2V1236" stroke-width="4.8" stroke-dasharray="0.01 23.29"/>
<path d="M471.4 655.3V1236" stroke-width="4.8" stroke-dasharray="0.01 23.29"/>
</g>
<path fill="#000" d="M277.10 72.05V1254.00L280.20 1258.20H282.80L285.90 1254.00V72.05Z M1904.30 72.05V1263.70L1907.55 1267.90H1910.15L1913.40 1263.70V72.05Z M1913.40 72.05H259.70L255.50 75.15V77.75L259.70 80.85H1913.40Z M1913.40 1237.20H259.70L255.50 1240.55V1243.15L259.70 1246.50H1913.40Z M281.50 1121.33H270.90L266.70 1124.68V1127.28L270.90 1130.63H281.50Z M281.50 1004.21H259.70L255.50 1007.56V1010.16L259.70 1013.51H281.50Z M281.50 888.29H270.90L266.70 891.64V894.24L270.90 897.59H281.50Z M281.50 771.17H259.70L255.50 774.52V777.12L259.70 780.47H281.50Z M281.50 655.25H270.90L266.70 658.60V661.20L270.90 664.55H281.50Z M281.50 538.13H259.70L255.50 541.48V544.08L259.70 547.43H281.50Z M281.50 422.21H270.90L266.70 425.56V428.16L270.90 431.51H281.50Z M281.50 305.09H259.70L255.50 308.44V311.04L259.70 314.39H281.50Z M281.50 189.17H270.90L266.70 192.52V195.12L270.90 198.47H281.50Z M425.50 1241.85V1263.70L428.85 1267.90H431.45L434.80 1263.70V1241.85Z M573.38 1241.85V1254.00L576.74 1258.20H579.33L582.68 1254.00V1241.85Z M721.27 1241.85V1263.70L724.62 1267.90H727.22L730.57 1263.70V1241.85Z M869.15 1241.85V1254.00L872.50 1258.20H875.10L878.45 1254.00V1241.85Z M1017.04 1241.85V1263.70L1020.39 1267.90H1022.99L1026.34 1263.70V1241.85Z M1164.92 1241.85V1254.00L1168.27 1258.20H1170.87L1174.22 1254.00V1241.85Z M1312.81 1241.85V1263.70L1316.16 1267.90H1318.76L1322.11 1263.70V1241.85Z M1460.69 1241.85V1254.00L1464.04 1258.20H1466.64L1469.99 1254.00V1241.85Z M1608.58 1241.85V1263.70L1611.93 1267.90H1614.53L1617.88 1263.70V1241.85Z M1756.46 1241.85V1254.00L1759.81 1258.20H1762.41L1765.76 1254.00V1241.85Z"/>
<defs><clipPath id="f1"><path clip-rule="evenodd" d="M-20 -80H400V30H-20Z M-5 -7.40H15.56V5H-5Z M24.71 -7.40H38.58V5H24.71Z"/></clipPath><clipPath id="f2"><path clip-rule="evenodd" d="M-20 -80H400V30H-20Z M-5 -6.84H14.26V5H-5Z M22.64 -6.84H35.48V5H22.64Z"/></clipPath></defs>
<g font-family="'Liberation Sans', Arial, Helvetica, sans-serif" font-weight="bold" fill="#000">
<text transform="translate(206.40 1259.05) scale(1 1.025)" font-size="66.67">0</text>
<text transform="translate(210.60 1256.80) scale(1 1.025)" font-size="61.1" aria-hidden="true">0</text>
<text transform="translate(169.40 1026.01) scale(1 1.025)" font-size="66.67">20</text>
<text transform="translate(176.60 1023.76) scale(1 1.025)" font-size="61.1" aria-hidden="true">20</text>
<text transform="translate(169.40 792.97) scale(1 1.025)" font-size="66.67">40</text>
<text transform="translate(176.60 790.72) scale(1 1.025)" font-size="61.1" aria-hidden="true">40</text>
<text transform="translate(169.40 559.93) scale(1 1.025)" font-size="66.67">60</text>
<text transform="translate(176.60 557.68) scale(1 1.025)" font-size="61.1" aria-hidden="true">60</text>
<text transform="translate(169.40 326.89) scale(1 1.025)" font-size="66.67">80</text>
<text transform="translate(176.60 324.64) scale(1 1.025)" font-size="61.1" aria-hidden="true">80</text>
<text transform="translate(132.40 93.85) scale(1 1.025)" font-size="66.67" clip-path="url(#f1)">100</text>
<text transform="translate(142.60 91.60) scale(1 1.025)" font-size="61.1" clip-path="url(#f2)" aria-hidden="true">100</text>
<text transform="translate(373.00 1329.40) scale(1 1.025)" font-size="66.67">300</text>
<text transform="translate(669.60 1329.40) scale(1 1.025)" font-size="66.67">400</text>
<text transform="translate(964.95 1329.40) scale(1 1.025)" font-size="66.67">500</text>
<text transform="translate(1260.80 1329.40) scale(1 1.025)" font-size="66.67">600</text>
<text transform="translate(1556.15 1329.40) scale(1 1.025)" font-size="66.67">700</text>
<text transform="translate(1853.00 1329.40) scale(1 1.025)" font-size="66.67">800</text>
<text transform="translate(863.00 1421.90) scale(1 1.025)" font-size="66.67" letter-spacing="0.386">Wavelength [nm]</text>
<text transform="translate(113.30 953.50) rotate(-90) scale(1 1.09)" font-size="66.67" letter-spacing="0.229">Reflectance [%]</text>
<text transform="translate(1288.00 213.90) scale(1 1.025)" font-size="66.67" letter-spacing="0.138">Generated data</text>
<text transform="translate(1288.00 299.90) scale(1 1.025)" font-size="66.67" letter-spacing="0.113" fill="#f00">Experimental data</text>
</g>
</svg>
</body>
</html>
